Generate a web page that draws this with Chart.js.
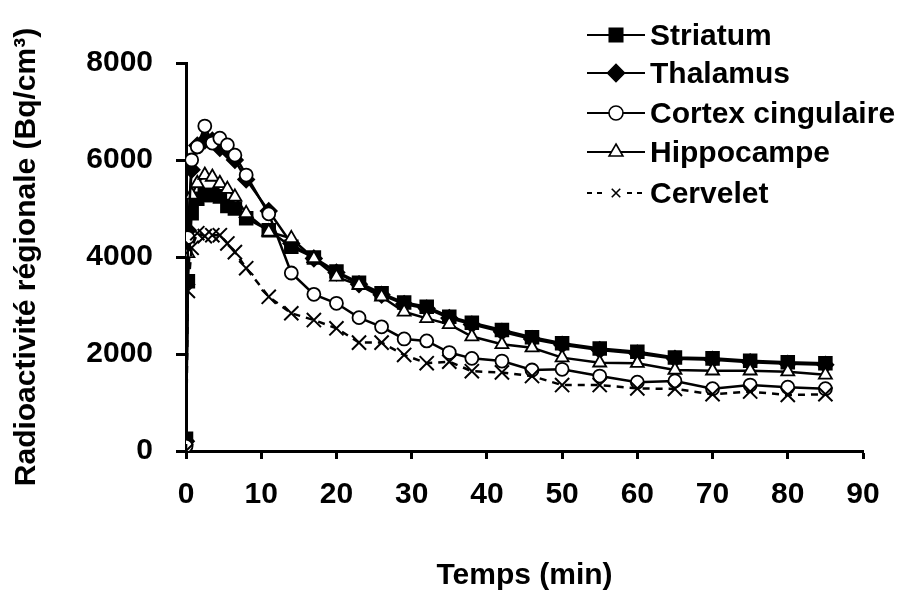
<!DOCTYPE html>
<html>
<head>
<meta charset="utf-8">
<script src="https://cdn.jsdelivr.net/npm/chart.js@4/dist/chart.umd.min.js"></script>
<style>
  body { margin: 0; background: #fff; }
  #wrap { width: 908px; height: 590px; }
</style>
</head>
<body>
<div id="wrap"><canvas id="tacChart" width="908" height="590"></canvas></div>
<script>
// Time-activity curves (Bq/cm3) per brain region
const times = [0, 0.25, 0.75, 1.5, 2.5, 3.5, 4.5, 5.5, 6.5, 8, 11, 14, 17, 20, 23, 26, 29, 32, 35, 38, 42, 46, 50, 55, 60, 65, 70, 75, 80, 85];

const striatum   = [250, 3500, 4900, 5200, 5280, 5280, 5250, 5050, 5000, 4800, 4550, 4210, 3990, 3700, 3470, 3250, 3060, 2975, 2770, 2645, 2495, 2345, 2220, 2115, 2045, 1930, 1910, 1860, 1830, 1810];
const thalamus   = [200, 4550, 5800, 6300, 6400, 6400, 6250, 6200, 6000, 5600, 4950, 4280, 3970, 3680, 3440, 3220, 3030, 2940, 2740, 2610, 2460, 2310, 2190, 2080, 2010, 1900, 1880, 1830, 1800, 1780];
const cortex     = [100, 4400, 6000, 6270, 6700, 6350, 6450, 6310, 6100, 5690, 4890, 3670, 3230, 3045, 2750, 2560, 2310, 2270, 2030, 1910, 1855, 1670, 1685, 1545, 1420, 1445, 1285, 1360, 1315, 1285];
const hippocampe = [50, 4075, 5280, 5520, 5690, 5650, 5520, 5400, 5240, 4900, 4520, 4385, 3970, 3590, 3420, 3180, 2870, 2735, 2610, 2360, 2200, 2130, 1925, 1820, 1810, 1670, 1655, 1655, 1635, 1570];
const cervelet   = [0, 3300, 4190, 4490, 4430, 4450, 4450, 4280, 4100, 3770, 3180, 2840, 2700, 2530, 2235, 2235, 1980, 1810, 1840, 1645, 1620, 1545, 1360, 1360, 1290, 1280, 1170, 1225, 1155, 1170];

const seriesNames = ['Striatum', 'Thalamus', 'Cortex cingulaire', 'Hippocampe', 'Cervelet'];
const xTicks = [0, 10, 20, 30, 40, 50, 60, 70, 80, 90];
const yTicks = [0, 2000, 4000, 6000, 8000];

const FONT = '"Liberation Sans", Arial, sans-serif';

function toPoints(values) {
    return values.map((v, i) => ({ x: times[i], y: v }));
}

const styles = [
    { pointStyle: 'rect',     radius: 9,   fill: '#000', dash: [],     width: 2.5, order: 3 },
    { pointStyle: 'rectRot',  radius: 8,   fill: '#000', dash: [],     width: 2.5, order: 4 },
    { pointStyle: 'circle',   radius: 6.5, fill: '#fff', dash: [],     width: 2.5, order: 1 },
    { pointStyle: 'triangle', radius: 7.5, fill: '#fff', dash: [],     width: 2.5, order: 2 },
    { pointStyle: 'crossRot', radius: 10,  fill: '#000', dash: [7, 6], width: 2.5, order: 0 }
];
const allValues = [striatum, thalamus, cortex, hippocampe, cervelet];

const datasets = allValues.map((vals, i) => ({
    label: seriesNames[i],
    data: toPoints(vals),
    borderColor: '#000',
    borderWidth: styles[i].width,
    borderDash: styles[i].dash,
    backgroundColor: styles[i].fill,
    pointStyle: styles[i].pointStyle,
    pointRadius: styles[i].radius,
    pointBackgroundColor: styles[i].fill,
    pointBorderColor: '#000',
    pointBorderWidth: i === 4 ? 2 : 1.8,
    tension: 0,
    order: styles[i].order
}));

// legend drawn in the upper right, like the original figure
const legendPlugin = {
    id: 'cornerLegend',
    afterDraw(chart) {
        const ctx = chart.ctx;
        const ys = [35, 73, 113, 152, 193];
        ctx.save();
        chart.data.datasets.forEach((ds, i) => {
            const y = ys[i];
            ctx.strokeStyle = '#000';
            ctx.lineWidth = 2;
            ctx.setLineDash(i === 4 ? [5, 5] : []);
            ctx.beginPath();
            ctx.moveTo(587, y);
            ctx.lineTo(645, y);
            ctx.stroke();
            ctx.setLineDash([]);
            if (i === 4) {
                ctx.fillStyle = '#fff';
                ctx.fillRect(604, y - 8, 22, 16);
            }
            ctx.fillStyle = styles[i].fill;
            ctx.lineWidth = 1.6;
            Chart.helpers.drawPoint(ctx, {
                pointStyle: styles[i].pointStyle,
                radius: i === 4 ? 6 : styles[i].radius + 0.5,
                rotation: 0,
                borderWidth: i === 4 ? 3 : 1.6
            }, 616, y);
            ctx.fillStyle = '#000';
            ctx.font = 'bold 30px ' + FONT;
            ctx.textAlign = 'left';
            ctx.textBaseline = 'middle';
            ctx.fillText(ds.label, 650, y + 2);
        });
        ctx.restore();
    }
};

new Chart(document.getElementById('tacChart'), {
    type: 'line',
    data: { datasets },
    options: {
        responsive: false,
        animation: false,
        layout: { padding: { left: 0, right: 45, top: 63, bottom: 0 } },
        plugins: { legend: { display: false }, tooltip: { enabled: false } },
        scales: {
            x: {
                type: 'linear',
                min: 0,
                max: 90,
                afterBuildTicks: (axis) => { axis.ticks = xTicks.map(v => ({ value: v })); },
                afterFit: (axis) => { axis.height = 139; },
                ticks: {
                    color: '#000',
                    padding: 18,
                    font: { family: FONT, size: 30, weight: 'bold' },
                    maxRotation: 0,
                    callback: (v) => String(v)
                },
                grid: { drawOnChartArea: false, drawTicks: true, tickLength: 8, tickWidth: 3, color: '#000' },
                border: { display: true, color: '#000', width: 3 },
                title: {
                    display: true,
                    text: 'Temps (min)',
                    color: '#000',
                    padding: { top: 0, bottom: -4 },
                    font: { family: FONT, size: 30, weight: 'bold' }
                }
            },
            y: {
                min: 0,
                max: 8000,
                afterBuildTicks: (axis) => { axis.ticks = yTicks.map(v => ({ value: v })); },
                afterFit: (axis) => { axis.width = 186; },
                ticks: {
                    color: '#000',
                    padding: 23,
                    font: { family: FONT, size: 30, weight: 'bold' },
                    callback: (v) => String(v)
                },
                grid: { drawOnChartArea: false, drawTicks: true, tickLength: 10, tickWidth: 3, color: '#000' },
                border: { display: true, color: '#000', width: 3 },
                title: {
                    display: true,
                    text: 'Radioactivité régionale (Bq/cm³)',
                    color: '#000',
                    padding: { top: 9, bottom: 0 },
                    font: { family: FONT, size: 30, weight: 'bold' }
                }
            }
        }
    },
    plugins: [legendPlugin]
});
</script>
</body>
</html>
